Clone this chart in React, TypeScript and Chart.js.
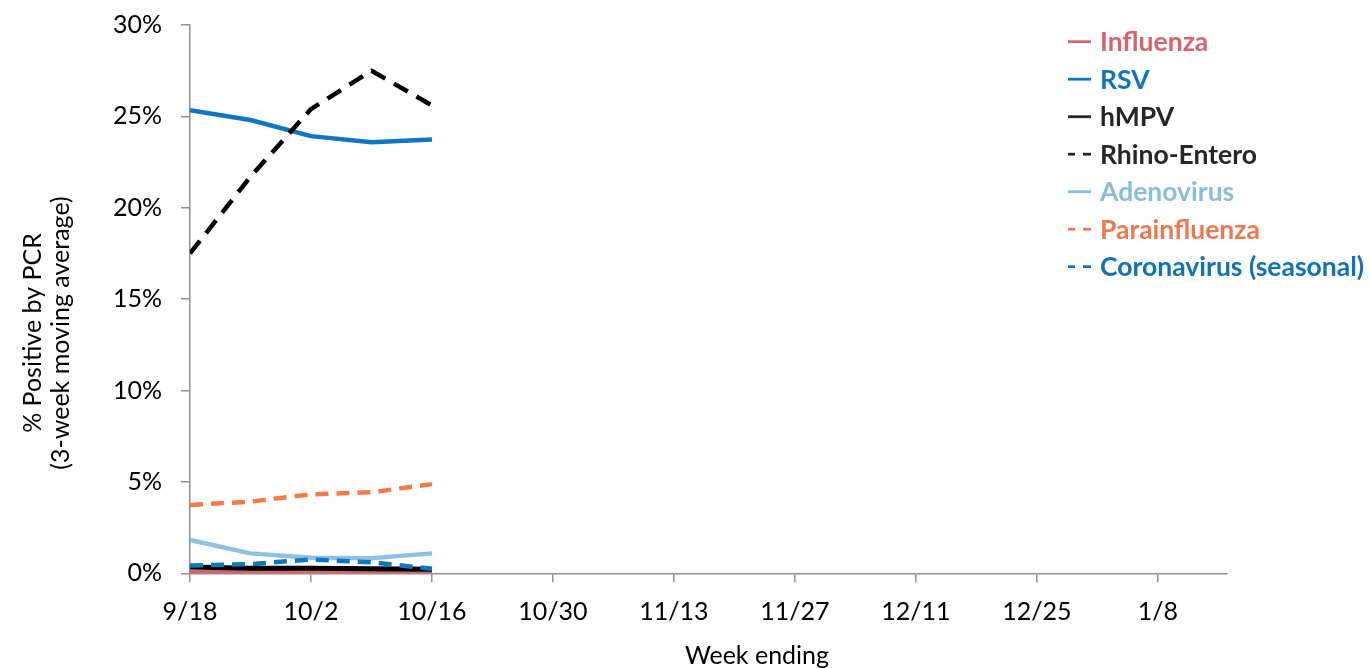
import React, { useEffect, useRef } from "react";
import { Chart, registerables } from "chart.js";

Chart.register(...registerables);

// ---- data ----
const weekLabels = ["9/18", "9/25", "10/2", "10/9", "10/16"];
const weekDays = [0, 7, 14, 21, 28]; // days after 9/18
const xTickLabels = ["9/18", "10/2", "10/16", "10/30", "11/13", "11/27", "12/11", "12/25", "1/8"];
const xMaxDay = 120;
const xTickStepDays = 14;

const influenza = [0.09, 0.07, 0.06, 0.06, 0.05];
const rsv = [25.34, 24.8, 23.92, 23.58, 23.74];
const hmpv = [0.35, 0.27, 0.27, 0.25, 0.22];
const rhinoEntero = [17.5, 21.7, 25.4, 27.5, 25.6];
const adenovirus = [1.82, 1.09, 0.85, 0.82, 1.09];
const parainfluenza = [3.74, 3.92, 4.32, 4.43, 4.88];
const coronavirus = [0.43, 0.5, 0.76, 0.6, 0.25];

const seriesNames = ["Influenza", "RSV", "hMPV", "Rhino-Entero", "Adenovirus", "Parainfluenza", "Coronavirus (seasonal)"];
const seriesValues = [influenza, rsv, hmpv, rhinoEntero, adenovirus, parainfluenza, coronavirus];
const seriesColors = ["#D9636B", "#0F76C2", "#000000", "#000000", "#8CC1E1", "#F47B45", "#0F76C2"];
const legendTextColors = ["#D9636B", "#0F74BE", "#262626", "#262626", "#87BEDD", "#F0784A", "#0F72BA"];
const seriesDashes: number[][] = [[], [], [], [16, 10], [], [13, 8], [13, 8]];
const seriesWidths = [4, 4.5, 5, 4.5, 4.5, 4.5, 4.5];

const yTitleLines = ["% Positive by PCR", "(3-week moving average)"];
const xTitle = "Week ending";

const FONT = "Lato, 'Open Sans', sans-serif";

const overlayPlugin = {
  id: "overlay",
  afterDraw(chart: any) {
    const ctx = chart.ctx as CanvasRenderingContext2D;
    ctx.save();
    // legend
    ctx.font = `bold 26.5px ${FONT}`;
    ctx.textAlign = "left";
    ctx.textBaseline = "alphabetic";
    seriesNames.forEach((name, i) => {
      const cy = 41.7 + i * 37.5;
      ctx.fillStyle = legendTextColors[i];
      if (seriesDashes[i].length) {
        ctx.fillRect(1068, cy - 1.4, 7, 2.8);
        ctx.fillRect(1083, cy - 1.4, 8, 2.8);
      } else {
        ctx.fillRect(1068, cy - 1.4, 23, 2.8);
      }
      ctx.fillText(name, 1100, cy + 9.5);
    });
    // y title
    ctx.font = `25px ${FONT}`;
    ctx.fillStyle = "#000";
    ctx.textAlign = "center";
    ctx.textBaseline = "alphabetic";
    const yCenters = [32, 60];
    yTitleLines.forEach((line, i) => {
      ctx.save();
      ctx.translate(yCenters[i] + 9, 333);
      ctx.rotate(-Math.PI / 2);
      ctx.fillText(line, 0, 0);
      ctx.restore();
    });
    // x title
    ctx.fillText(xTitle, 757, 664);
    ctx.restore();
  },
};

export default function App() {
  const ref = useRef<HTMLCanvasElement>(null);
  useEffect(() => {
    if (!ref.current) return;
    const datasets = seriesNames.map((name, i) => ({
      label: name,
      data: weekDays.map((d, j) => ({ x: d, y: seriesValues[i][j] })),
      borderColor: seriesColors[i],
      backgroundColor: seriesColors[i],
      borderWidth: seriesWidths[i],
      borderDash: seriesDashes[i],
      pointRadius: 0,
      tension: 0,
      fill: false,
      order: seriesNames.length - 1 - i,
      borderJoinStyle: "round" as const,
    }));
    const chart = new Chart(ref.current, {
      type: "line",
      data: { labels: weekLabels, datasets },
      options: {
        animation: false,
        responsive: true,
        maintainAspectRatio: false,
        layout: { padding: { top: 25, right: 143, bottom: 0, left: 0 } },
        plugins: { legend: { display: false }, tooltip: { enabled: false } },
        scales: {
          x: {
            type: "linear",
            min: 0,
            max: xMaxDay,
            afterFit: (s: any) => {
              s.height = 94.7;
              s.paddingLeft = 0;
              s.paddingRight = 0;
            },
            border: { display: true, color: "#8F8F8F", width: 1.5 },
            grid: { display: true, drawOnChartArea: false, drawTicks: true, tickLength: 9, color: "#8F8F8F", lineWidth: 1.5 },
            ticks: {
              stepSize: xTickStepDays,
              includeBounds: false,
              autoSkip: false,
              maxRotation: 0,
              padding: 15,
              color: "#000",
              font: { family: FONT, size: 25 },
              callback: (v: any) => xTickLabels[Math.round(Number(v) / xTickStepDays)] ?? "",
            },
          },
          y: {
            min: 0,
            max: 30,
            afterFit: (s: any) => {
              s.width = 190;
              s.paddingTop = 0;
              s.paddingBottom = 0;
            },
            border: { display: true, color: "#8F8F8F", width: 1.5 },
            grid: { display: true, drawOnChartArea: false, drawTicks: true, tickLength: 9, color: "#8F8F8F", lineWidth: 1.5 },
            ticks: {
              stepSize: 5,
              padding: 19,
              color: "#000",
              font: { family: FONT, size: 25 },
              callback: (v: any) => `${v}%`,
            },
          },
        },
      },
      plugins: [overlayPlugin],
    });
    return () => chart.destroy();
  }, []);
  return (
    <div style={{ position: "absolute", left: 0, top: 0, width: 1370, height: 668 }}>
      <canvas ref={ref} />
    </div>
  );
}
